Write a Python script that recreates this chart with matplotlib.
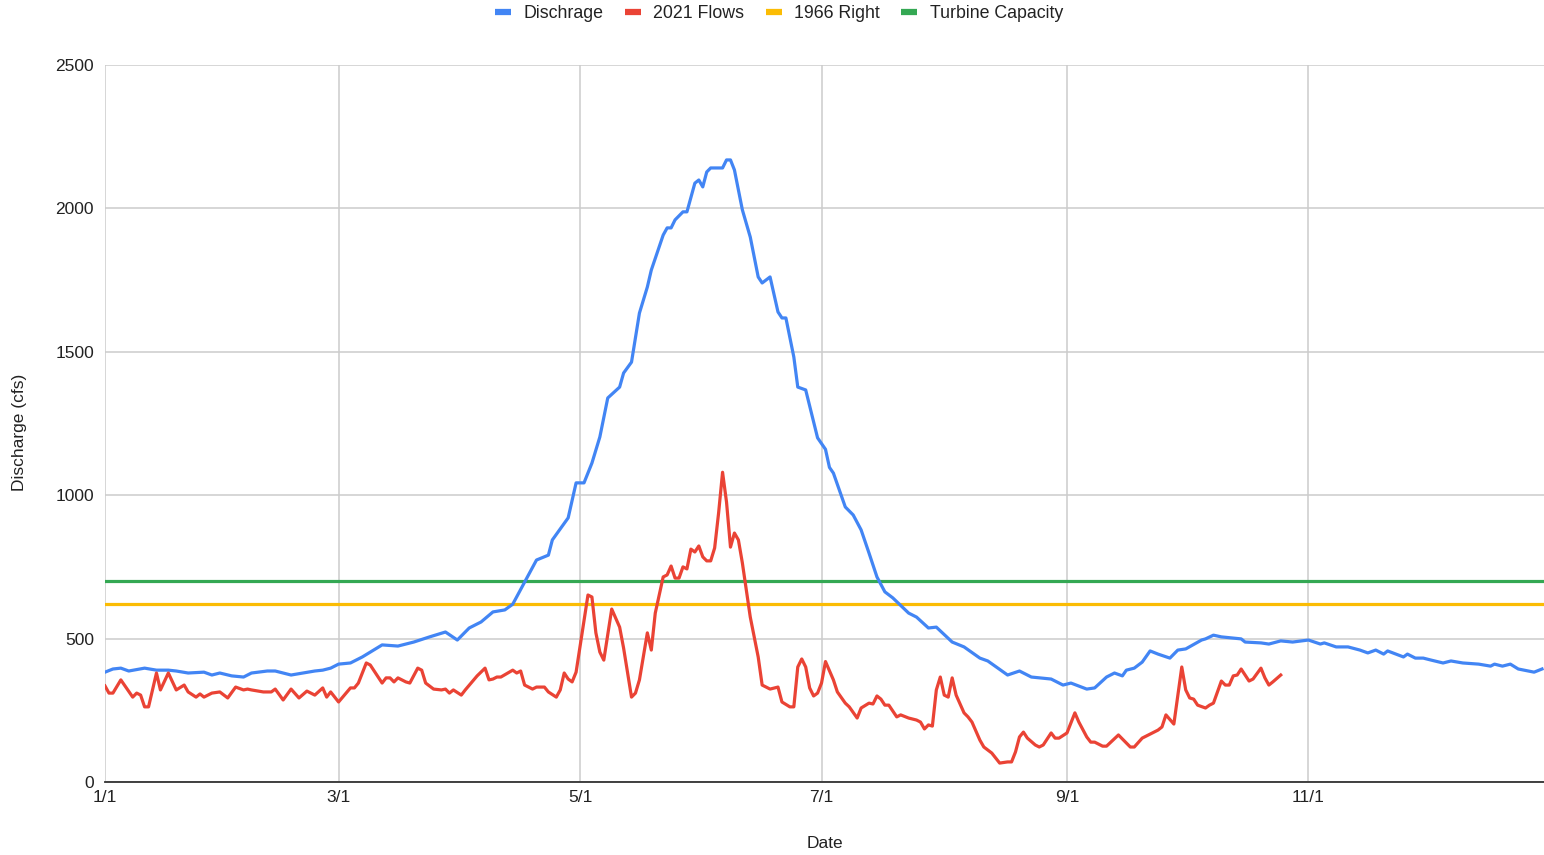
import numpy as np
import matplotlib.pyplot as plt
from matplotlib.lines import Line2D

plt.rcParams['font.family'] = ['Liberation Sans', 'DejaVu Sans']

# day of year (0 = Jan 1, 2021) and daily discharge in cfs
blue_days = [0, 2, 4, 6, 10, 13, 16, 18, 21, 25, 27, 29, 32, 35, 37, 41, 43, 47, 50, 53,
             55, 57, 59, 62, 65, 70, 74, 78, 82, 86, 89, 92, 95, 98, 101, 103, 106, 109, 112, 113,
             117, 119, 121, 123, 125, 127, 130, 131, 133, 135, 137, 138, 141, 142, 143, 144, 146, 147, 149, 150,
             151, 152, 153, 156, 157, 158, 159, 161, 163, 165, 166, 168, 170, 171, 172, 174, 175, 177, 180, 182,
             183, 184, 187, 189, 191, 193, 195, 197, 199, 203, 205, 208, 210, 214, 217, 221, 223, 228, 231, 234,
             239, 242, 244, 248, 250, 253, 255, 257, 258, 260, 262, 264, 266, 269, 271, 273, 277, 278, 280, 282,
             287, 288, 292, 294, 297, 300, 304, 307, 308, 311, 314, 317, 319, 321, 323, 324, 328, 329, 331, 333,
             335, 338, 340, 343, 347, 350, 351, 353, 355, 357, 361, 363]
blue_vals = [383, 394, 397, 387, 397, 390, 390, 387, 380, 383, 373, 380, 370, 366, 380, 387, 387, 373, 380, 387,
             390, 397, 411, 415, 436, 478, 474, 488, 506, 523, 495, 537, 558, 593, 600, 620, 697, 774, 791, 844,
             921, 1043, 1043, 1112, 1203, 1339, 1377, 1426, 1464, 1635, 1726, 1785, 1907, 1932, 1932, 1960, 1988, 1988, 2088, 2099,
             2075, 2127, 2141, 2141, 2169, 2169, 2134, 1995, 1900, 1761, 1740, 1761, 1639, 1618, 1618, 1482, 1377, 1367, 1200, 1160,
             1097, 1077, 959, 931, 879, 798, 715, 663, 642, 589, 575, 537, 540, 488, 471, 432, 422, 373, 387, 366,
             359, 338, 345, 324, 328, 366, 380, 370, 390, 397, 418, 457, 446, 432, 460, 464, 495, 499, 512, 506,
             499, 488, 485, 481, 492, 488, 495, 481, 485, 471, 471, 460, 450, 460, 446, 457, 436, 446, 432, 432,
             425, 415, 422, 415, 411, 404, 411, 404, 411, 394, 383, 394]

red_days = [0, 1, 2, 4, 7, 8, 9, 10, 11, 13, 14, 16, 18, 20, 21, 23, 24, 25, 27, 29,
            31, 33, 35, 36, 37, 40, 42, 43, 45, 47, 49, 51, 53, 55, 56, 57, 59, 62, 63, 64,
            66, 67, 69, 70, 71, 72, 73, 74, 76, 77, 79, 80, 81, 83, 85, 86, 87, 88, 90, 91,
            94, 96, 97, 98, 99, 100, 103, 104, 105, 106, 108, 109, 111, 112, 114, 115, 116, 117, 118, 119,
            122, 123, 124, 125, 126, 128, 130, 131, 133, 134, 135, 137, 138, 139, 141, 142, 143, 144, 145, 146,
            147, 148, 149, 150, 151, 152, 153, 154, 155, 156, 157, 158, 159, 160, 161, 163, 165, 166, 168, 170,
            171, 173, 174, 175, 176, 177, 178, 179, 180, 181, 182, 184, 185, 187, 188, 190, 191, 193, 194, 195,
            196, 197, 198, 200, 201, 203, 205, 206, 207, 208, 209, 210, 211, 212, 213, 214, 215, 217, 218, 219,
            221, 222, 224, 226, 228, 229, 230, 231, 232, 233, 235, 236, 237, 239, 240, 241, 243, 245, 246, 248,
            249, 250, 252, 253, 256, 257, 259, 260, 262, 264, 266, 267, 268, 270, 272, 273, 274, 275, 276, 278,
            279, 280, 282, 283, 284, 285, 286, 287, 289, 290, 292, 293, 294, 295, 297]
red_vals = [335, 310, 310, 356, 296, 310, 303, 262, 262, 380, 321, 380, 321, 338, 314, 296, 307, 296, 310, 314,
            293, 331, 321, 324, 321, 314, 314, 324, 286, 324, 293, 317, 303, 328, 296, 314, 279, 328, 328, 345,
            415, 408, 366, 345, 363, 363, 349, 363, 349, 345, 397, 390, 345, 324, 321, 324, 310, 321, 303, 321,
            370, 397, 356, 359, 366, 366, 390, 380, 387, 338, 324, 331, 331, 314, 296, 321, 380, 359, 349, 383,
            652, 645, 520, 453, 425, 603, 540, 467, 296, 310, 356, 520, 460, 589, 715, 722, 753, 711, 711, 750,
            743, 812, 802, 823, 785, 771, 771, 816, 938, 1080, 976, 819, 868, 844, 764, 575, 436, 338, 324, 331,
            279, 262, 262, 401, 429, 401, 328, 300, 310, 345, 420, 356, 314, 275, 262, 223, 258, 275, 272, 300,
            289, 268, 268, 227, 234, 223, 216, 209, 185, 199, 195, 321, 366, 303, 296, 363, 303, 241, 227, 209,
            146, 122, 101, 66, 70, 70, 105, 157, 174, 153, 129, 122, 129, 171, 153, 153, 171, 241, 209, 157,
            139, 139, 125, 125, 164, 150, 122, 122, 153, 167, 181, 192, 234, 202, 401, 321, 293, 289, 268, 258,
            268, 275, 352, 338, 338, 370, 373, 394, 352, 359, 397, 363, 338, 349, 373]

right_1966 = 620
turbine_capacity = 700

tick_days = [0, 59, 120, 181, 243, 304]
tick_labels = ['1/1', '3/1', '5/1', '7/1', '9/1', '11/1']

c_blue, c_red, c_yellow, c_green = '#4285F4', '#EA4335', '#FBBC04', '#34A853'

fig = plt.figure(figsize=(15.44, 8.55), dpi=100)
ax = fig.add_axes([105 / 1544, 1 - 782 / 855, 1 - 105 / 1544, (782 - 65) / 855])

ax.plot(blue_days, blue_vals, color=c_blue, lw=2.3, zorder=3)
ax.plot(red_days, red_vals, color=c_red, lw=2.3, zorder=4)
ax.axhline(right_1966, color=c_yellow, lw=2.3, zorder=2)
ax.axhline(turbine_capacity, color=c_green, lw=2.3, zorder=2)

ax.set_xlim(0, 363.5)
ax.set_ylim(0, 2500)
ax.set_yticks(np.arange(0, 2501, 500))
ax.set_xticks(tick_days)
ax.set_xticklabels(tick_labels)
ax.grid(True, color='#cccccc', lw=1.1)
ax.set_axisbelow(True)
for s in ['top', 'right', 'left']:
    ax.spines[s].set_visible(False)
ax.spines['bottom'].set_color('#333333')
ax.spines['bottom'].set_linewidth(1.3)
ax.spines['bottom'].set_zorder(5)
ax.tick_params(length=0, labelsize=12.5, colors='#222222')
ax.tick_params(axis='y', pad=8)
ax.tick_params(axis='x', pad=6)

fig.text(20 / 1544, 1 - 432 / 855, 'Discharge (cfs)', rotation=90, ha='center', va='center',
         fontsize=12.5, color='#222222')
fig.text(825 / 1544, 1 - 843 / 855, 'Date', ha='center', va='center', fontsize=12.5, color='#222222')

handles = [Line2D([], [], color=c, lw=4.5, solid_capstyle='butt') for c in [c_blue, c_red, c_yellow, c_green]]
fig.legend(handles, ['Dischrage', '2021 Flows', '1966 Right', 'Turbine Capacity'],
           loc='center', bbox_to_anchor=(779 / 1544, 1 - 14 / 855), ncol=4, frameon=False,
           fontsize=12.8, handlelength=0.9, handletextpad=0.7, columnspacing=1.2,
           labelcolor='#222222')

fig.savefig('out.png', dpi=100)
